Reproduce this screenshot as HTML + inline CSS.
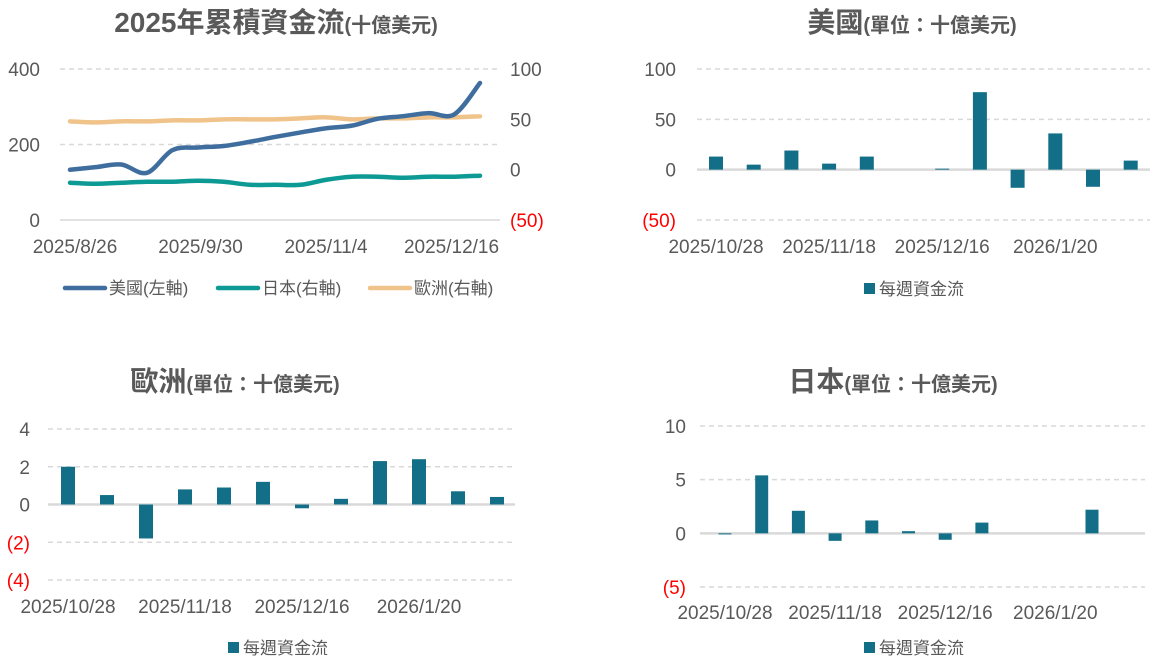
<!DOCTYPE html>
<html><head><meta charset="utf-8"><style>
body{margin:0;background:#fff;width:1168px;height:666px;overflow:hidden}
svg text{font-family:"Liberation Sans","Noto Sans CJK TC",sans-serif}
</style></head><body>
<svg id="s" width="1168" height="666" xmlns="http://www.w3.org/2000/svg"></svg>
<script>
// Chart 1 data
const lineDates = ['2025/8/26','2025/9/30','2025/11/4','2025/12/16'];
const usCum = [133,140,147,125,185,192,196,207,220,232,243,250,268,275,283,280,363];
const jpCum = [-13,-14,-13,-12,-12,-11,-12,-15,-15,-15,-10,-7,-7,-8,-7,-7,-6];
const euCum = [48,47,48,48,49,49,50,50,50,51,52,50,51,51,52,52,53];
const leftTicks = [0,200,400];
const rightTicks = [-50,0,50,100];
// Bar charts data
const barDateLabels = ['2025/10/28','2025/11/18','2025/12/16','2026/1/20'];
const usWeekly = [13,5,19,6,13,0,1,77,-18,36,-17,9];
const usTicks = [-50,0,50,100];
const euWeekly = [2.0,0.5,-1.8,0.8,0.9,1.2,-0.2,0.3,2.3,2.4,0.7,0.4];
const euTicks = [-4,-2,0,2,4];
const jpWeekly = [-0.1,5.4,2.1,-0.7,1.2,0.2,-0.6,1.0,0,0,2.2,0];
const jpTicks = [-5,0,5,10];

const S=document.getElementById('s');const NS='http://www.w3.org/2000/svg';
function mk(t,a,txt){const e=document.createElementNS(NS,t);for(const k in a)e.setAttribute(k,a[k]);if(txt!==undefined)e.textContent=txt;S.appendChild(e);return e;}
function fmt(v){return v<0?'('+(-v)+')':String(v);}
function title(x,y,big,small,name){const t=mk('text',{x:x,y:y,'text-anchor':'middle',fill:'#595959','font-weight':'bold','font-size':28});

const a=document.createElementNS(NS,'tspan');a.textContent=big;t.appendChild(a);const b=document.createElementNS(NS,'tspan');b.setAttribute('font-size','20');b.textContent=small;t.appendChild(b);}

// ---- Chart 1 ----
title(276,32,'2025年累積資金流','(十億美元)','cumulative-title');
const L0=220,L1=69;const yl=v=>L0-(v/400)*(L0-L1);const yr=v=>L0-((v+50)/150)*(L0-L1);
const xl=i=>70+i*(410/(usCum.length-1));
leftTicks.forEach(v=>{const g=mk('line',{x1:60,x2:500,y1:yl(v),y2:yl(v),stroke:'#d9d9d9','stroke-width':1.5,'stroke-dasharray':v===0?'':'5,4'});
const t=mk('text',{x:40,y:yl(v)+7,'text-anchor':'end','font-size':19,fill:'#595959'},fmt(v));});
rightTicks.forEach(v=>{const t=mk('text',{x:510,y:yr(v)+7,'font-size':19,fill:v<0?'#ff0000':'#595959'},fmt(v));});
lineDates.forEach((d,i)=>{const t=mk('text',{x:75+i*125.5,y:253,'text-anchor':'middle','font-size':19,fill:'#595959'},d);});
function line(arr,f,col,name){
 const P=arr.map((v,i)=>[xl(i),f(v)]);let d='M'+P[0][0]+','+P[0][1];
 for(let i=0;i<P.length-1;i++){const p0=P[Math.max(i-1,0)],p1=P[i],p2=P[i+1],p3=P[Math.min(i+2,P.length-1)];
 d+=' C'+(p1[0]+(p2[0]-p0[0])/6)+','+(p1[1]+(p2[1]-p0[1])/6)+' '+(p2[0]-(p3[0]-p1[0])/6)+','+(p2[1]-(p3[1]-p1[1])/6)+' '+p2[0]+','+p2[1];}
 const p=mk('path',{d:d,fill:'none',stroke:col,'stroke-width':4.5,'stroke-linejoin':'round','stroke-linecap':'round'});}
line(euCum,yr,'#f0c38a','europe-line');line(jpCum,yr,'#0e9a94','japan-line');line(usCum,yl,'#3f6e9e','us-line');
[['#3f6e9e','美國(左軸)',65,'legend-us'],['#0e9a94','日本(右軸)',218,'legend-japan'],['#f0c38a','歐洲(右軸)',370,'legend-europe']].forEach(l=>{
const g=mk('line',{x1:l[2],x2:l[2]+40,y1:288,y2:288,stroke:l[0],'stroke-width':4.5,'stroke-linecap':'round'});
const t=mk('text',{x:l[2]+44,y:294,'font-size':17,fill:'#595959'},l[1]);});

// ---- bar chart helper ----
function bars(o){
 const y=v=>o.y0-(v-o.min)/(o.max-o.min)*(o.y0-o.y1);
 o.ticks.forEach(v=>{const g=mk('line',{x1:o.px0,x2:o.px1,y1:y(v),y2:y(v),stroke:'#d9d9d9','stroke-width':v===0?2.5:1.5,'stroke-dasharray':v===0?'':'5,4'});
 const t=mk('text',{x:o.lx,y:y(v)+7,'text-anchor':'end','font-size':19,fill:v<0?'#ff0000':'#595959'},fmt(v));});
 o.data.forEach((v,i)=>{const cx=o.bx0+i*o.step;const a=y(Math.max(v,0)),b=y(Math.min(v,0));
 const r=mk('rect',{x:cx-o.bw/2,y:a,width:o.bw,height:Math.max(b-a,0),fill:'#126f87'});});
 barDateLabels.forEach((d,j)=>{const t=mk('text',{x:o.bx0+j*3*o.step,y:o.xly,'text-anchor':'middle','font-size':19,fill:'#595959'},d);});
 const sq=mk('rect',{x:o.lgx,y:o.lgy-6,width:11,height:11,fill:'#126f87'});
 const t=mk('text',{x:o.lgx+15,y:o.lgy+6,'font-size':17,fill:'#595959'},'每週資金流');
}
title(912,32,'美國','(單位：十億美元)','us-title');
bars({data:usWeekly,ticks:usTicks,min:-50,max:100,y0:220,y1:69,px0:697,px1:1150,lx:676,bx0:716,step:37.7,bw:14,xly:253,lgx:864,lgy:289});
title(235,391,'歐洲','(單位：十億美元)','europe-title');
bars({data:euWeekly,ticks:euTicks,min:-4,max:4,y0:580,y1:429,px0:48,px1:515,lx:30,bx0:68,step:39,bw:14,xly:613,lgx:228,lgy:648});
title(893,391,'日本','(單位：十億美元)','japan-title');
bars({data:jpWeekly,ticks:jpTicks,min:-5,max:10,y0:587,y1:426,px0:700,px1:1145,lx:686,bx0:725,step:36.7,bw:13,xly:619,lgx:864,lgy:648});
</script>
</body></html>
